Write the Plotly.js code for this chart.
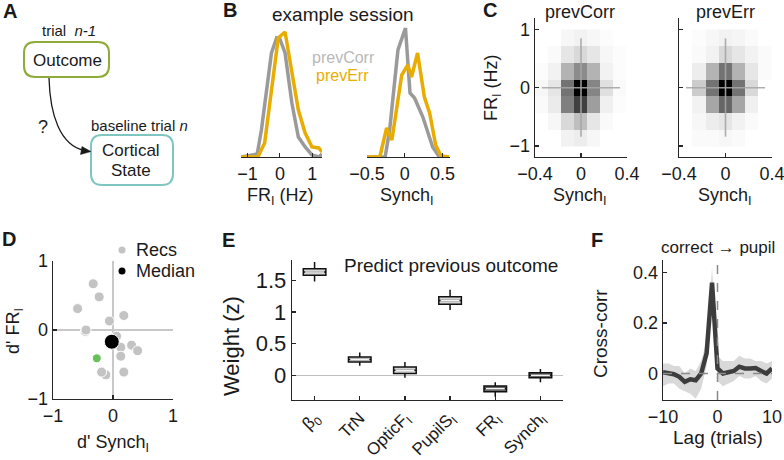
<!DOCTYPE html>
<html><head><meta charset="utf-8">
<script src="https://cdn.plot.ly/plotly-3.0.1.min.js"></script>
<style>body{margin:0;background:#fff;} #chart{width:784px;height:460px;}</style>
</head><body><div id="chart"></div>
<script>
// ---------- DATA ----------
// B: example session distributions (arbitrary density units)
const frX_prevCorr = [-1.2,-0.9,-0.7,-0.57,-0.26,-0.1,0.0,0.16,0.37,0.57,0.78,0.99,1.2,1.3];
const frY_prevCorr = [0,2,3,27,104,119,118,104,54,20,10,2,0,3];
const frX_prevErr  = [-1.2,-0.68,-0.47,-0.05,0.16,0.37,0.57,0.78,0.99,1.2,1.3];
const frY_prevErr  = [0,0,14,119,125,87,47,24,10,9,5];
const synX_prevCorr = [-0.5,-0.26,-0.2,-0.09,0.01,0.07,0.13,0.24,0.37,0.46];
const synY_prevCorr = [0,0,27,107,129,64,59,40,10,0];
const synX_prevErr  = [-0.5,-0.33,-0.24,-0.17,-0.04,0.04,0.09,0.17,0.26,0.33,0.41,0.48,0.59];
const synY_prevErr  = [0,0,29,17,82,92,80,104,60,44,12,1,0];

// C: 2D histograms (Synch bins x FR bins), normalized 0..1
const cSynchBins = [-0.34,-0.226,-0.113,0,0.113,0.226,0.34];
const cFRBins    = [-0.86,-0.575,-0.287,0,0.287,0.575,0.86];
const cZ_prevCorr = [
  [0,0,0.05,0.07,0.03,0,0],
  [0,0.03,0.15,0.25,0.1,0.02,0],
  [0.02,0.08,0.5,0.75,0.38,0.06,0.01],
  [0.03,0.1,0.55,1.0,0.48,0.12,0.02],
  [0.01,0.05,0.3,0.45,0.3,0.05,0.01],
  [0,0.02,0.1,0.15,0.1,0.03,0.01],
  [0,0,0.03,0.05,0.03,0.01,0]
];
const cZ_prevErr = [
  [0,0.02,0.02,0.03,0.02,0,0],
  [0,0.03,0.07,0.1,0.05,0.02,0],
  [0,0.05,0.35,0.6,0.35,0.06,0],
  [0,0.2,0.55,1.0,0.55,0.15,0],
  [0,0.07,0.3,0.55,0.3,0.1,0.02],
  [0,0.02,0.05,0.15,0.1,0.05,0.02],
  [0,0.01,0.03,0.05,0.04,0.02,0]
];
const cCrossX = [-0.34,0.34];
const cCrossY = [-0.84,0.85];

// D: d' per recording
const dSynch = [-0.46,-0.33,-0.23,-0.59,-0.06,0.18,-0.45,0.06,0.13,0.31,0.41,0.13,-0.12,-0.19,0.18];
const dFR    = [-0.02,0.67,0.48,0.31,0.13,0.21,0.0,-0.09,-0.25,-0.22,-0.3,-0.38,-0.65,-0.61,-0.61];
const dExampleSynch = [-0.27], dExampleFR = [-0.41];
const dMedianSynch = [-0.02], dMedianFR = [-0.17];

// E: GLM weights predicting previous outcome
const eLabels = ['β<sub>0</sub>','TrN','OpticF<sub>I</sub>','PupilS<sub>I</sub>','FR<sub>I</sub>','Synch<sub>I</sub>'];
const eMedian = [1.63,0.25,0.08,1.18,-0.21,0.0];
const eQ1     = [1.58,0.21,0.03,1.12,-0.26,-0.04];
const eQ3     = [1.68,0.29,0.13,1.24,-0.17,0.04];
const eLow    = [1.48,0.15,-0.04,1.03,-0.34,-0.11];
const eHigh   = [1.79,0.36,0.21,1.35,-0.11,0.10];
const eDark   = [false,false,false,false,true,true];

// F: cross-correlation correct -> pupil
const fLag  = [-10,-9,-8,-7,-6,-5,-4,-3,-2,-1,0,1,2,3,4,5,6,7,8,9,10];
const fMean = [0.005,0.0,-0.003,-0.013,-0.033,-0.023,-0.027,0.0,0.08,0.36,0.02,0.0,0.005,0.01,0.027,0.02,0.02,0.022,0.01,0.0,0.02];
const fLow  = [-0.05,-0.04,-0.04,-0.06,-0.07,-0.08,-0.1,-0.06,0.03,0.3,-0.03,-0.05,-0.04,-0.03,-0.01,-0.02,-0.02,-0.01,-0.03,-0.04,-0.02];
const fHigh = [0.04,0.04,0.03,0.03,0.0,0.02,0.01,0.05,0.13,0.42,0.07,0.05,0.05,0.05,0.07,0.06,0.06,0.05,0.05,0.04,0.05];

// ---------- HELPERS ----------
const W=784, H=460;
const FONT = 'Liberation Sans, Arial, sans-serif';
const INK = '#1a1a1a';
const px = x => x/W, py = y => 1 - y/H;
const GRAY='#9a9a9a', YEL='#e8ad00';

function axisStyle(extra, fs){
  return Object.assign({
    showline:true, linecolor:'#262626', linewidth:1.3,
    ticks:'inside', ticklen:4, tickcolor:'#262626', tickwidth:1.2,
    showgrid:false, zeroline:false, fixedrange:true,
    tickfont:{family:FONT,size:fs||18,color:INK}
  }, extra);
}
function ann(x,y,text,opts){
  const o = Object.assign({size:18,color:INK,bold:false}, opts||{});
  const a = {xref:'paper',yref:'paper',x:px(x),y:py(y),text:o.bold?'<b>'+text+'</b>':text,showarrow:false,
    xanchor:o.xanchor||'center',yanchor:o.yanchor||'middle',font:{family:FONT,size:o.size,color:o.color}};
  if(o.angle!==undefined) a.textangle=o.angle;
  return a;
}
function pt(x,y){return px(x).toFixed(5)+','+py(y).toFixed(5);}
function roundRect(x0,y0,x1,y1,r){
  return 'M'+pt(x0+r,y0)+' L'+pt(x1-r,y0)+' Q'+pt(x1,y0)+' '+pt(x1,y0+r)+
    ' L'+pt(x1,y1-r)+' Q'+pt(x1,y1)+' '+pt(x1-r,y1)+' L'+pt(x0+r,y1)+' Q'+pt(x0,y1)+' '+pt(x0,y1-r)+
    ' L'+pt(x0,y0+r)+' Q'+pt(x0,y0)+' '+pt(x0+r,y0)+' Z';
}

// ---------- TRACES ----------
const traces = [];
// B
traces.push({x:frX_prevCorr,y:frY_prevCorr,xaxis:'x',yaxis:'y',mode:'lines',line:{color:GRAY,width:3.5},cliponaxis:false});
traces.push({x:frX_prevErr,y:frY_prevErr,xaxis:'x',yaxis:'y',mode:'lines',line:{color:YEL,width:3.5},cliponaxis:false});
traces.push({x:synX_prevCorr,y:synY_prevCorr,xaxis:'x2',yaxis:'y2',mode:'lines',line:{color:GRAY,width:3.5},cliponaxis:false});
traces.push({x:synX_prevErr,y:synY_prevErr,xaxis:'x2',yaxis:'y2',mode:'lines',line:{color:YEL,width:3.5},cliponaxis:false});
// C
const gs = [[0,'#ffffff'],[1,'#000000']];
traces.push({type:'heatmap',x:cSynchBins,y:cFRBins,z:cZ_prevCorr,xaxis:'x3',yaxis:'y3',colorscale:gs,zmin:0,zmax:1,showscale:false});
traces.push({type:'heatmap',x:cSynchBins,y:cFRBins,z:cZ_prevErr,xaxis:'x4',yaxis:'y4',colorscale:gs,zmin:0,zmax:1,showscale:false});
[['x3','y3'],['x4','y4']].forEach(([xa,ya])=>{
  traces.push({x:cCrossX,y:[0,0],xaxis:xa,yaxis:ya,mode:'lines',line:{color:'rgba(165,165,165,0.9)',width:1.6}});
  traces.push({x:[0,0],y:cCrossY,xaxis:xa,yaxis:ya,mode:'lines',line:{color:'rgba(165,165,165,0.9)',width:1.6}});
});
// D
traces.push({x:dSynch,y:dFR,xaxis:'x5',yaxis:'y5',mode:'markers',marker:{color:'#c3c3c3',size:10,line:{color:'#ffffff',width:1}}});
traces.push({x:dExampleSynch,y:dExampleFR,xaxis:'x5',yaxis:'y5',mode:'markers',marker:{color:'#6cc05c',size:9,line:{color:'#ffffff',width:1}}});
traces.push({x:dMedianSynch,y:dMedianFR,xaxis:'x5',yaxis:'y5',mode:'markers',marker:{color:'#000000',size:15,line:{color:'#ffffff',width:1}}});
// E boxes
eLabels.forEach((lab,i)=>{
  traces.push({type:'box',x:[i],q1:[eQ1[i]],median:[eMedian[i]],q3:[eQ3[i]],lowerfence:[eLow[i]],upperfence:[eHigh[i]],
    xaxis:'x6',yaxis:'y6',width:0.5,whiskerwidth:0,boxpoints:false,
    fillcolor:eDark[i]?'#6a6a6a':'#d4d4d4',line:{color:'#111111',width:1.5}});
});
const medX=[],medY=[];
eMedian.forEach((m,i)=>{medX.push(i-0.21,i+0.21,null);medY.push(m,m,null);});
traces.push({x:medX,y:medY,xaxis:'x6',yaxis:'y6',mode:'lines',line:{color:'#f4f4f4',width:1.5}});
// F
traces.push({x:fLag,y:fLow,xaxis:'x7',yaxis:'y7',mode:'lines',line:{width:0,color:'rgba(0,0,0,0)'}});
traces.push({x:fLag,y:fHigh,xaxis:'x7',yaxis:'y7',mode:'lines',line:{width:0,color:'rgba(0,0,0,0)'},fill:'tonexty',fillcolor:'#d9d9d9'});
traces.push({x:fLag,y:fMean,xaxis:'x7',yaxis:'y7',mode:'lines',line:{color:'#3d3d3d',width:4.5}});

// ---------- LAYOUT ----------
const layout = {
  width:W,height:H,margin:{l:0,r:0,t:0,b:0},paper_bgcolor:'#fff',plot_bgcolor:'rgba(0,0,0,0)',
  showlegend:false,font:{family:FONT,color:INK},
  xaxis: axisStyle({domain:[px(241),px(322)],range:[-1.2,1.3],tickvals:[-1,0,1],anchor:'y'}),
  yaxis: {domain:[py(157),py(22)],range:[0,135],visible:false,anchor:'x',fixedrange:true},
  xaxis2: axisStyle({domain:[px(367),px(450)],range:[-0.5,0.6],tickvals:[-0.5,0,0.5],anchor:'y2'}),
  yaxis2: {domain:[py(157),py(22)],range:[0,135],visible:false,anchor:'x2',fixedrange:true},
  xaxis3: axisStyle({domain:[px(535),px(627)],range:[-0.4,0.4],tickvals:[-0.4,0,0.4],anchor:'y3'}),
  yaxis3: axisStyle({domain:[py(157),py(18)],range:[-1.19,1.2],tickvals:[-1,0,1],anchor:'x3'}),
  xaxis4: axisStyle({domain:[px(679),px(772)],range:[-0.4,0.4],tickvals:[-0.4,0,0.4],anchor:'y4',ticklabeloverflow:'allow'}),
  yaxis4: axisStyle({domain:[py(157),py(18)],range:[-1.19,1.2],tickvals:[-1,0,1],showticklabels:false,anchor:'x4'}),
  xaxis5: axisStyle({domain:[px(53),px(173)],range:[-1,1],tickvals:[-1,0,1],anchor:'y5',zeroline:true,zerolinecolor:'#c8c8c8',zerolinewidth:1.5}),
  yaxis5: axisStyle({domain:[py(399),py(261)],range:[-1,1],tickvals:[-1,0,1],anchor:'x5',zeroline:true,zerolinecolor:'#c8c8c8',zerolinewidth:1.5}),
  xaxis6: axisStyle({domain:[px(292),px(563)],range:[-0.5,5.5],tickvals:[0,1,2,3,4,5],ticktext:eLabels,tickangle:-45,anchor:'y6'},17),
  yaxis6: axisStyle({domain:[py(400),py(260)],range:[-0.39,1.82],tickvals:[0,0.5,1,1.5],anchor:'x6',zeroline:true,zerolinecolor:'#c0c0c0',zerolinewidth:1.5},22),
  xaxis7: axisStyle({domain:[px(663),px(772)],range:[-10,10],tickvals:[-10,0,10],anchor:'y7',ticklabeloverflow:'allow'}),
  yaxis7: axisStyle({domain:[py(400),py(260)],range:[-0.105,0.45],tickvals:[0,0.2,0.4],anchor:'x7'}),
  shapes: [
    {type:'path',xref:'paper',yref:'paper',path:roundRect(24,42,109,77,11),line:{color:'#8fac3a',width:2}},
    {type:'path',xref:'paper',yref:'paper',path:roundRect(91,135,173,185,11),line:{color:'#80c6c0',width:2}},
    {type:'path',xref:'paper',yref:'paper',path:'M'+pt(49,78)+' C'+pt(50,115)+' '+pt(60,145)+' '+pt(84,150.5),line:{color:'#1a1a1a',width:1.3}},
    {type:'path',xref:'paper',yref:'paper',path:'M'+pt(91,151.6)+' L'+pt(80.5,154.5)+' L'+pt(82,146.5)+' Z',fillcolor:'#1a1a1a',line:{color:'#1a1a1a',width:0.5}},
    {type:'line',xref:'x7',yref:'y7 domain',x0:0,x1:0,y0:0,y1:1,line:{color:'#8a8a8a',width:1.5,dash:'dash'}},
    {type:'line',xref:'x7 domain',yref:'y7',x0:0,x1:1,y0:0,y1:0,line:{color:'#8a8a8a',width:1.5,dash:'dash'}},
    {type:'circle',xref:'paper',yref:'paper',x0:px(118.5),x1:px(125.5),y0:py(253.5),y1:py(246.5),fillcolor:'#c3c3c3',line:{width:0}},
    {type:'circle',xref:'paper',yref:'paper',x0:px(118.5),x1:px(125.5),y0:py(274.5),y1:py(267.5),fillcolor:'#000000',line:{width:0}}
  ],
  annotations: [
    ann(10,11,'A',{size:20,bold:true}),
    ann(230,10,'B',{size:20,bold:true}),
    ann(490,10,'C',{size:20,bold:true}),
    ann(9,239,'D',{size:20,bold:true}),
    ann(229,240,'E',{size:20,bold:true}),
    ann(597,240,'F',{size:20,bold:true}),
    // A
    ann(69,31,'trial  <i>n-1</i>',{size:15}),
    ann(67,60,'Outcome',{size:17}),
    ann(139,126,'baseline trial <i>n</i>',{size:15}),
    ann(43,127,'?',{size:18}),
    ann(131,150,'Cortical',{size:17}),
    ann(131,171,'State',{size:17}),
    // B
    ann(343,14,'example session',{size:19}),
    ann(343,57,'prevCorr',{size:16,color:'#b8b8b8'}),
    ann(342,75,'prevErr',{size:16,color:YEL}),
    ann(280,196,'FR<sub>I</sub> (Hz)',{size:18}),
    ann(407,196,'Synch<sub>I</sub>',{size:18}),
    // C
    ann(580,12,'prevCorr',{size:18}),
    ann(725,12,'prevErr',{size:18}),
    ann(492,88,'FR<sub>I</sub> (Hz)',{size:18,angle:-90}),
    ann(580,196,'Synch<sub>I</sub>',{size:18}),
    ann(725,196,'Synch<sub>I</sub>',{size:18}),
    // D
    ann(134,250,'Recs',{size:18,xanchor:'left'}),
    ann(134,271,'Median',{size:18,xanchor:'left'}),
    ann(14,331,"d' FR<sub>I</sub>",{size:18,angle:-90}),
    ann(113,443,"d' Synch<sub>I</sub>",{size:18}),
    // E
    ann(451,265,'Predict previous outcome',{size:19}),
    ann(231,346,'Weight (z)',{size:22,angle:-90}),
    // F
    ann(718,247,'correct → pupil',{size:17}),
    ann(600,334,'Cross-corr',{size:19,angle:-90}),
    ann(718,437,'Lag (trials)',{size:19})
  ]
};
Plotly.newPlot('chart',traces,layout,{staticPlot:true,displayModeBar:false});
</script>
</body></html>
